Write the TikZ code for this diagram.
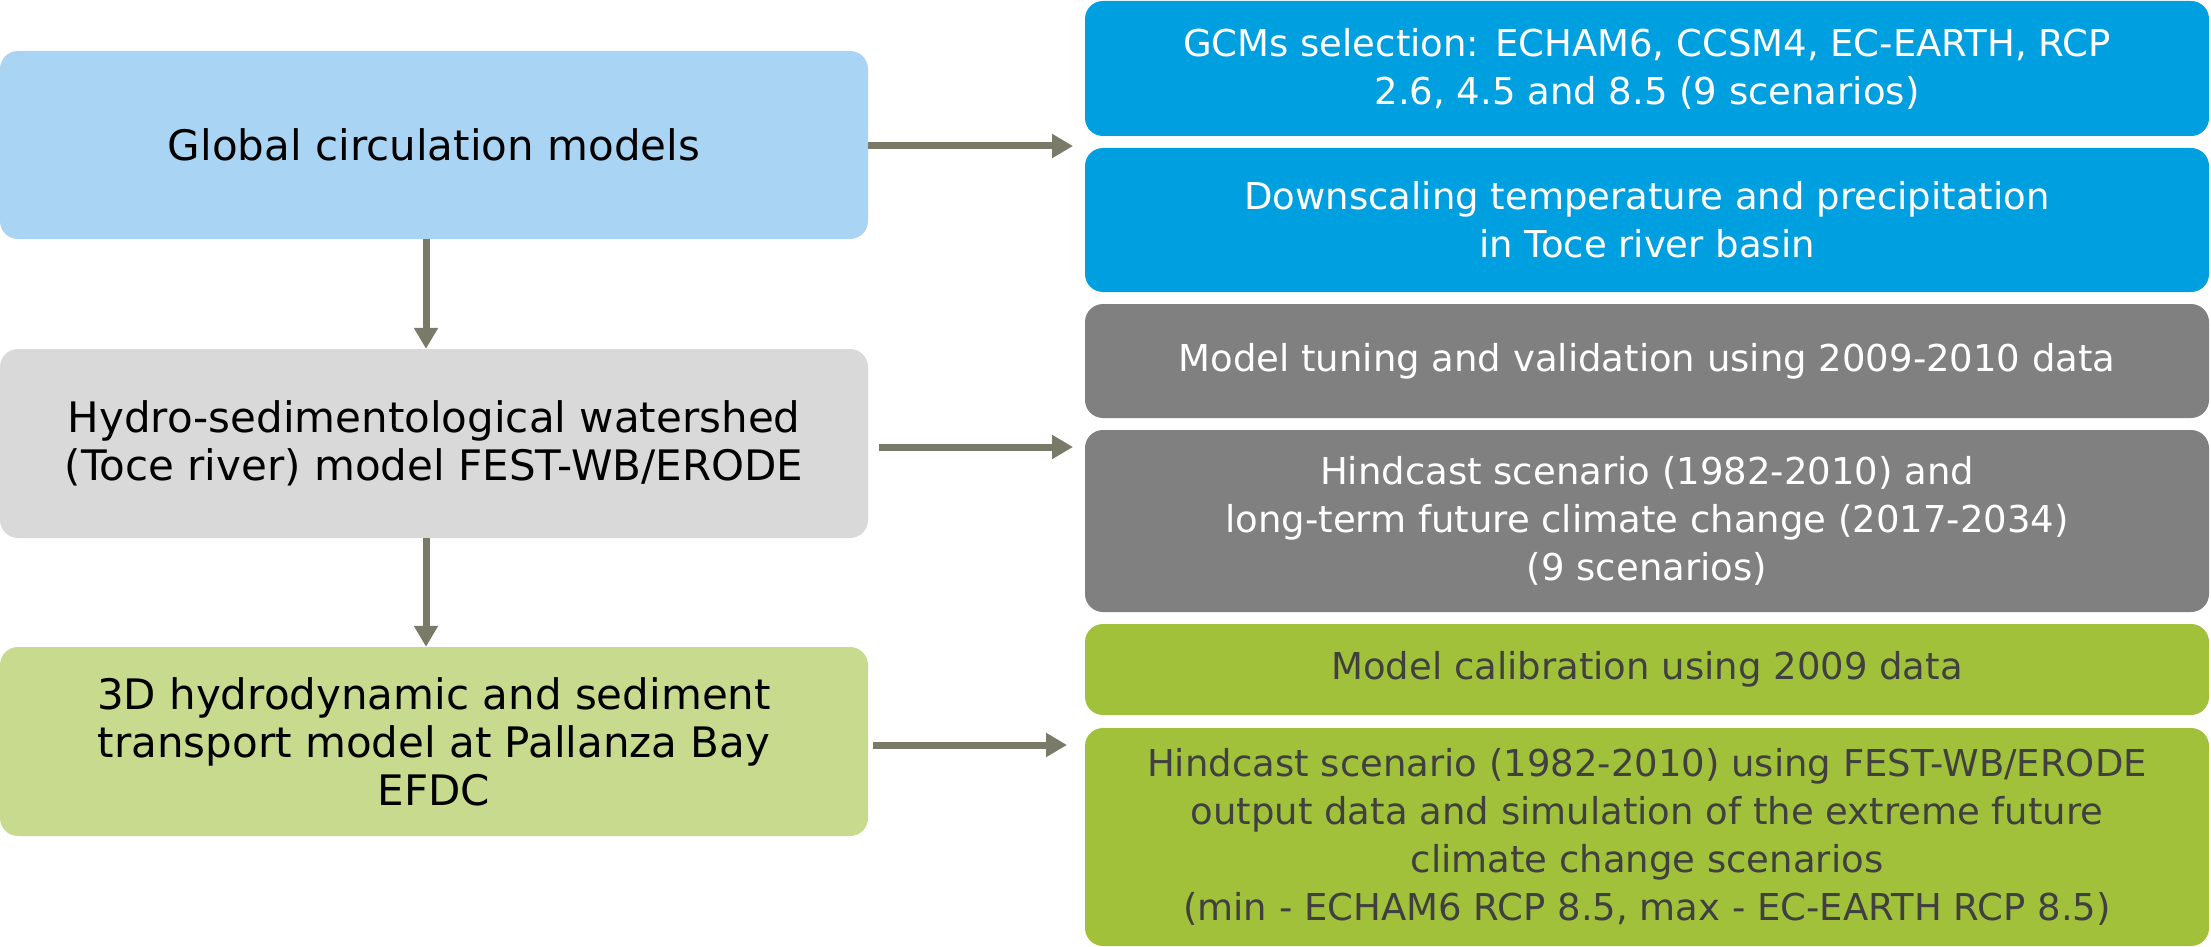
\documentclass[tikz,border=0pt]{standalone}
\usepackage{fontspec}
\setmainfont{DejaVu Sans}
\usetikzlibrary{arrows.meta}
\definecolor{lblue}{RGB}{169,212,243}
\definecolor{lgray}{RGB}{217,217,217}
\definecolor{lgreen}{RGB}{200,218,142}
\definecolor{dblue}{RGB}{0,160,224}
\definecolor{dgray}{RGB}{128,128,128}
\definecolor{dgreen}{RGB}{162,193,58}
\definecolor{arrowc}{RGB}{122,122,104}
\definecolor{gtext}{RGB}{64,64,64}
\tikzset{
  leftbox/.style={rounded corners=18pt, inner sep=0pt, minimum width=868pt, align=center,
    font=\fontsize{42}{48}\selectfont, text=black},
  rightbox/.style={rounded corners=18pt, inner sep=0pt, minimum width=1124pt, align=center,
    font=\fontsize{37}{48}\selectfont},
  arr/.style={draw=arrowc, line width=7pt, -{Triangle[length=21pt,width=23pt]}, color=arrowc}
}
\begin{document}
\begin{tikzpicture}[x=1pt,y=-1pt]
\useasboundingbox (0,0) rectangle (2211,947);
% left boxes
\node[leftbox, fill=lblue, minimum height=188pt] (g) at (434,145) {Global circulation models};
\node[leftbox, fill=lgray, minimum height=189pt] (h) at (434,443.5) {Hydro-sedimentological watershed\\(Toce river) model FEST-WB/ERODE};
\node[leftbox, fill=lgreen, minimum height=189pt] (e) at (434,741.5) {3D hydrodynamic and sediment\\transport model at Pallanza Bay\\EFDC};
% right boxes
\node[rightbox, fill=dblue, text=white, minimum height=135pt] (b1) at (1647,68.5) {GCMs selection: ECHAM6, CCSM4, EC-EARTH, RCP\\2.6, 4.5 and 8.5 (9 scenarios)};
\node[rightbox, fill=dblue, text=white, minimum height=144pt] (b2) at (1647,220) {Downscaling temperature and precipitation\\in Toce river basin};
\node[rightbox, fill=dgray, text=white, minimum height=114pt] (g1) at (1647,361) {Model tuning and validation using 2009-2010 data};
\node[rightbox, fill=dgray, text=white, minimum height=182pt] (g2) at (1647,521) {Hindcast scenario (1982-2010) and\\long-term future climate change (2017-2034)\\(9 scenarios)};
\node[rightbox, fill=dgreen, text=gtext, minimum height=91pt] (n1) at (1647,669.5) {Model calibration using 2009 data};
\node[rightbox, fill=dgreen, text=gtext, minimum height=218pt] (n2) at (1647,837) {Hindcast scenario (1982-2010) using FEST-WB/ERODE\\output data and simulation of the extreme future\\climate change scenarios\\(min - ECHAM6 RCP 8.5, max - EC-EARTH RCP 8.5)};
% free ends of horizontal arrows
\coordinate (t1) at (1073,146);
\coordinate (t2) at (1073,447);
\coordinate (t3) at (1067,745);
% arrows
\draw[arr] ([yshift=-1pt]g.east) -- (t1);
\draw[arr] ([xshift=11pt,yshift=-3.5pt]h.east) -- (t2);
\draw[arr] ([xshift=5pt,yshift=-3.5pt]e.east) -- (t3);
\draw[arr] ([xshift=-8pt]g.south) -- ([xshift=-8pt]h.north);
\draw[arr] ([xshift=-8pt]h.south) -- ([xshift=-8pt]e.north);
\end{tikzpicture}
\end{document}
